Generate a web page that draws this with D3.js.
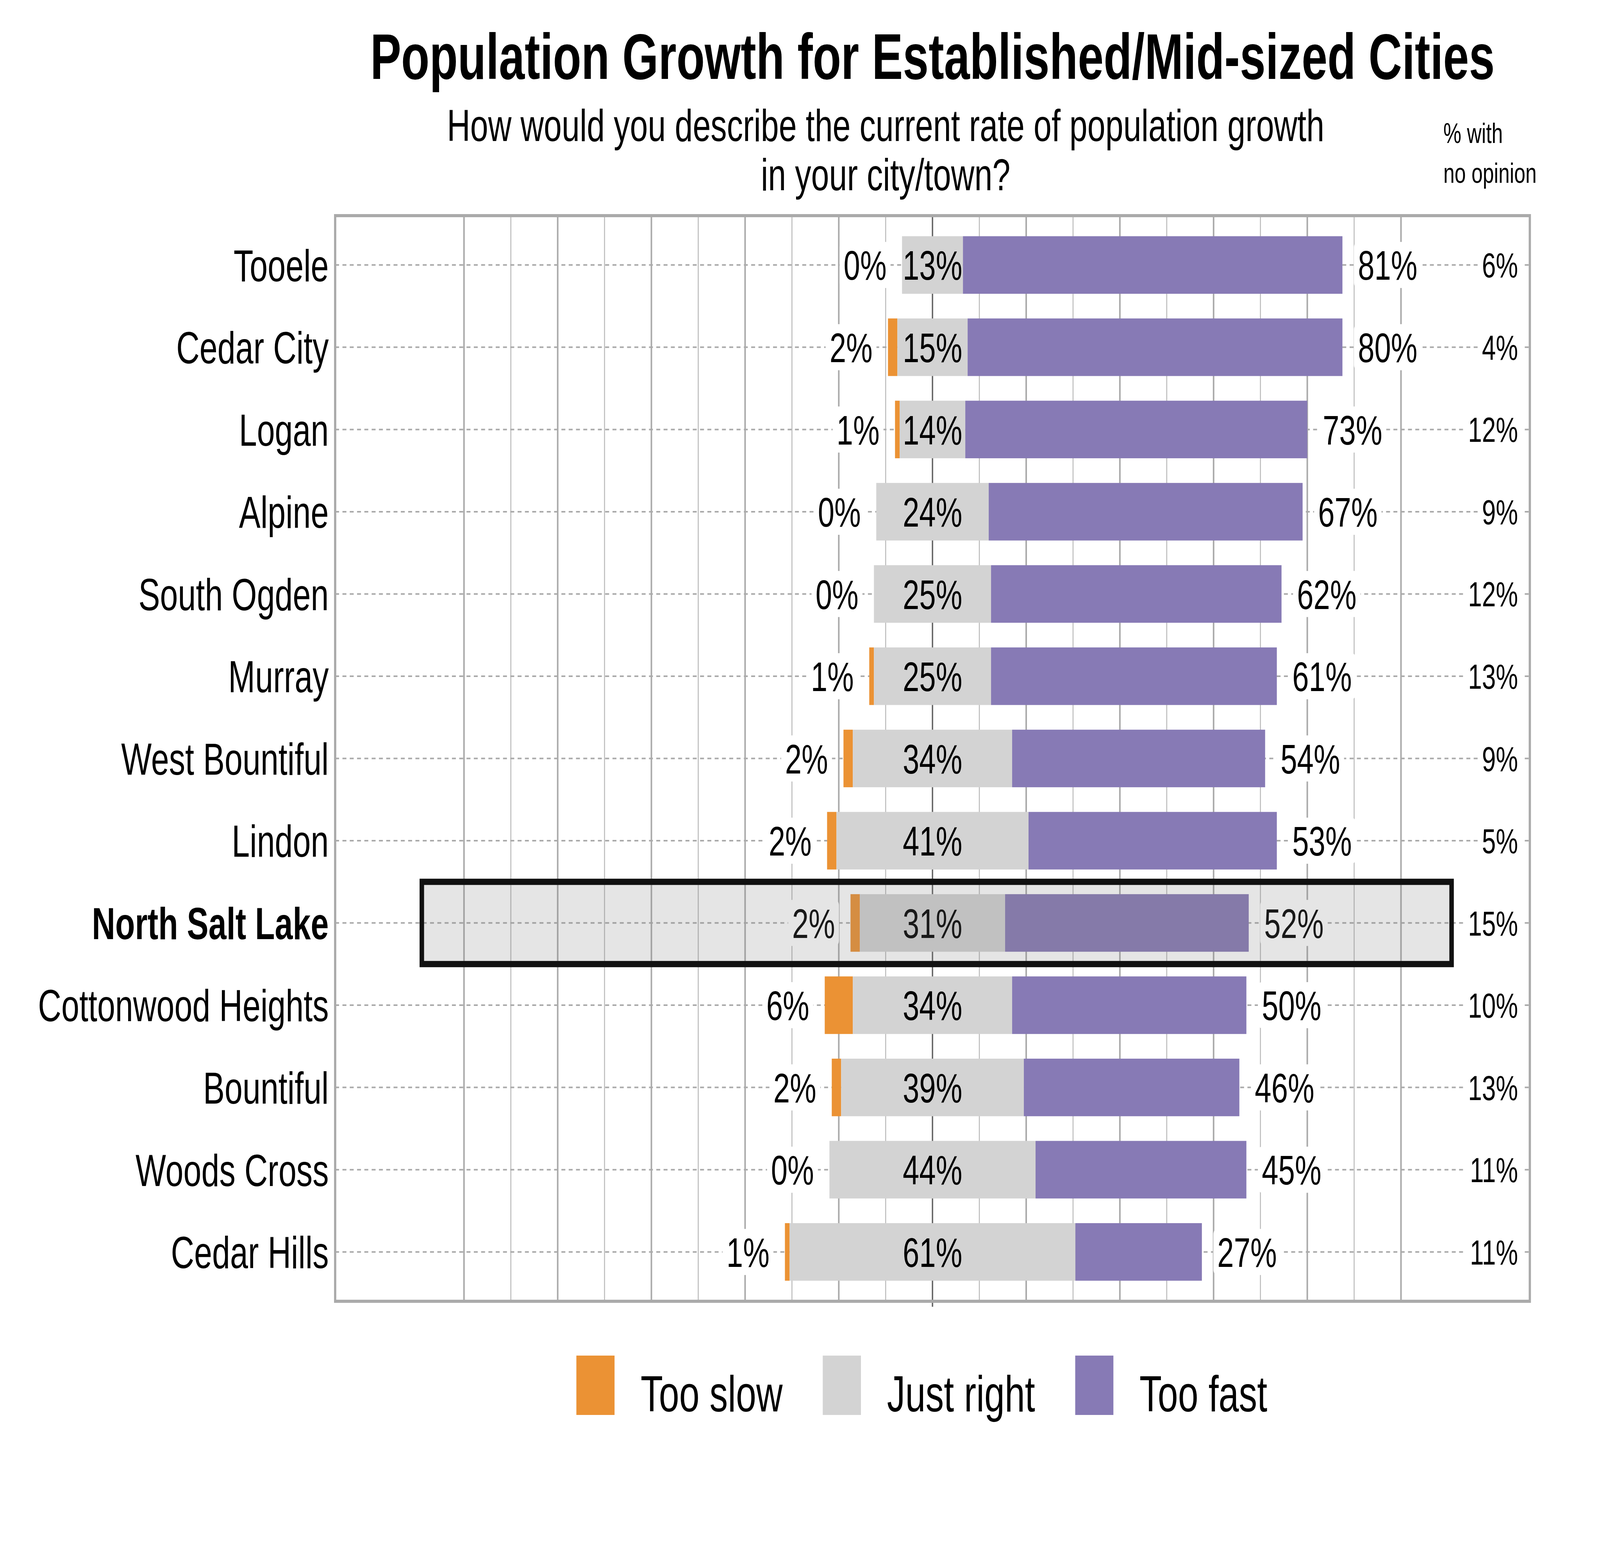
<!DOCTYPE html>
<html>
<head>
<meta charset="utf-8">
<script src="https://cdn.jsdelivr.net/npm/d3@7"></script>
<style>
  html, body { margin: 0; padding: 0; width: 100%; height: 100%; overflow: hidden; background: white; }
  #chart { width: 100vw; height: 100vh; }
  svg { display: block; }
  text { font-family: "Liberation Sans", Arial, sans-serif; }
</style>
</head>
<body>
<div id="chart"></div>
<script>
// survey data
const cities = ["Tooele", "Cedar City", "Logan", "Alpine", "South Ogden", "Murray",
  "West Bountiful", "Lindon", "North Salt Lake", "Cottonwood Heights", "Bountiful",
  "Woods Cross", "Cedar Hills"];
const tooSlow = [0, 2, 1, 0, 0, 1, 2, 2, 2, 6, 2, 0, 1];
const justRight = [13, 15, 14, 24, 25, 25, 34, 41, 31, 34, 39, 44, 61];
const tooFast = [81, 80, 73, 67, 62, 61, 54, 53, 52, 50, 46, 45, 27];
const noOpinion = [6, 4, 12, 9, 12, 13, 9, 5, 15, 10, 13, 11, 11];
const highlightCity = "North Salt Lake";
const seriesNames = ["Too slow", "Just right", "Too fast"];
const seriesColors = ["#eb9234", "#d3d3d3", "#877ab5"];
const gridTicks = d3.range(-100, 101, 10);

function chartConfig() {
  let config = {
    width: 5700,
    height: 3960,
    panel: { left: 1194, right: 5450, top: 552, bottom: 3331 },
    xDomain: [-127.5, 127.5],
    labelGap: 55,
    valueFont: 106,
    noOpFont: 89,
    cityFont: 115,
    noOpX: 5408,
    highlightExtent: [-109, 110.8]
  };
  // fill the whole window whatever its size
  config.svg = d3.select("#chart").append("svg")
    .attr("width", "100%")
    .attr("height", "100%")
    .attr("viewBox", [0, 0, config.width, config.height].join(" "))
    .attr("preserveAspectRatio", "none");
  config.x = d3.scaleLinear().domain(config.xDomain)
    .range([config.panel.left, config.panel.right]);
  config.y = d3.scalePoint().domain(cities)
    .range([config.panel.top, config.panel.bottom])
    .padding(0.6);
  config.barH = config.y.step() * 0.7;
  return config;
}

let cfg = chartConfig();

let rows = cities.map((c, i) => ({
  city: c,
  slow: tooSlow[i],
  right: justRight[i],
  fast: tooFast[i],
  none: noOpinion[i]
}));

function drawTitles() {
  cfg.svg.append("text")
    .attr("x", 3322).attr("y", 202)
    .attr("text-anchor", "middle")
    .attr("font-size", 165).attr("font-weight", "bold")
    .text("Population Growth for Established/Mid-sized Cities");

  let sub = ["How would you describe the current rate of population growth", "in your city/town?"];
  cfg.svg.selectAll(".sub").data(sub).enter().append("text")
    .attr("x", 3155).attr("y", (d, i) => 361 + i * 126)
    .attr("text-anchor", "middle")
    .attr("font-size", 115)
    .text(d => d);

  let noOp = ["% with", "no opinion"];
  cfg.svg.selectAll(".noophead").data(noOp).enter().append("text")
    .attr("x", 5142).attr("y", (d, i) => 366 + i * 102)
    .attr("font-size", 72)
    .text(d => d);
}

function drawGrid() {
  let p = cfg.panel;
  cfg.svg.append("g").selectAll("line")
    .data(gridTicks)
    .enter().append("line")
    .attr("x1", d => cfg.x(d)).attr("x2", d => cfg.x(d))
    .attr("y1", p.top).attr("y2", d => d === 0 ? p.bottom + 14 : p.bottom)
    .attr("stroke", d => d === 0 ? "#666666" : (d % 20 === 0 ? "#aaaaaa" : "#bbbbbb"))
    .attr("stroke-width", d => d === 0 ? 5 : (d % 20 === 0 ? 5.5 : 3.5));

  cfg.svg.append("g").selectAll("line")
    .data(cities)
    .enter().append("line")
    .attr("x1", p.left).attr("x2", p.right)
    .attr("y1", d => cfg.y(d)).attr("y2", d => cfg.y(d))
    .attr("stroke", "#aaaaaa")
    .attr("stroke-width", 4)
    .attr("stroke-dasharray", "14,12");
}

function drawBars() {
  let g = cfg.svg.append("g");
  let half = cfg.barH / 2;
  // too slow, to the left of just right
  g.selectAll(".slow").data(rows).enter().append("rect")
    .attr("x", d => cfg.x(-d.right / 2 - d.slow))
    .attr("y", d => cfg.y(d.city) - half)
    .attr("width", d => cfg.x(-d.right / 2) - cfg.x(-d.right / 2 - d.slow))
    .attr("height", cfg.barH)
    .attr("fill", seriesColors[0]);
  g.selectAll(".right").data(rows).enter().append("rect")
    .attr("x", d => cfg.x(-d.right / 2))
    .attr("y", d => cfg.y(d.city) - half)
    .attr("width", d => cfg.x(d.right / 2) - cfg.x(-d.right / 2))
    .attr("height", cfg.barH)
    .attr("fill", seriesColors[1]);
  g.selectAll(".fast").data(rows).enter().append("rect")
    .attr("x", d => cfg.x(d.right / 2))
    .attr("y", d => cfg.y(d.city) - half)
    .attr("width", d => cfg.x(d.right / 2 + d.fast) - cfg.x(d.right / 2))
    .attr("height", cfg.barH)
    .attr("fill", seriesColors[2]);
}

function boxedLabel(g, x, y, txt, anchor, size) {
  let lab = g.append("g");
  let t = lab.append("text")
    .attr("x", x).attr("y", y)
    .attr("dy", "0.36em")
    .attr("text-anchor", anchor)
    .attr("font-size", size)
    .text(txt);
  let bb = t.node().getBBox();
  lab.insert("rect", "text")
    .attr("x", bb.x - 14).attr("y", y - 59)
    .attr("width", bb.width + 28).attr("height", 118)
    .attr("rx", 14)
    .attr("fill", "white");
}

function drawLabels() {
  let g = cfg.svg.append("g");
  rows.forEach(d => {
    let yy = cfg.y(d.city);
    boxedLabel(g, cfg.x(-d.right / 2 - d.slow) - cfg.labelGap, yy, d.slow + "%", "end", cfg.valueFont);
    boxedLabel(g, cfg.x(d.right / 2 + d.fast) + cfg.labelGap, yy, d.fast + "%", "start", cfg.valueFont);
    boxedLabel(g, cfg.noOpX, yy, d.none + "%", "end", cfg.noOpFont);
    g.append("text")
      .attr("x", cfg.x(0)).attr("y", yy)
      .attr("dy", "0.36em")
      .attr("text-anchor", "middle")
      .attr("font-size", cfg.valueFont)
      .text(d.right + "%");
  });

  cfg.svg.append("g").selectAll("text")
    .data(cities)
    .enter().append("text")
    .attr("x", 1171).attr("y", d => cfg.y(d))
    .attr("dy", "0.36em")
    .attr("text-anchor", "end")
    .attr("font-size", cfg.cityFont)
    .attr("font-weight", d => d === highlightCity ? "bold" : "normal")
    .text(d => d);
}

function drawHighlight() {
  let yy = cfg.y(highlightCity);
  let s = cfg.y.step();
  cfg.svg.append("rect")
    .attr("x", cfg.x(cfg.highlightExtent[0]))
    .attr("y", yy - s / 2)
    .attr("width", cfg.x(cfg.highlightExtent[1]) - cfg.x(cfg.highlightExtent[0]))
    .attr("height", s)
    .attr("fill", "#7f7f7f")
    .attr("fill-opacity", 0.2)
    .attr("stroke", "#111111")
    .attr("stroke-width", 16);
}

function drawPanelBorder() {
  let p = cfg.panel;
  cfg.svg.append("rect")
    .attr("x", p.left).attr("y", p.top)
    .attr("width", p.right - p.left).attr("height", p.bottom - p.top)
    .attr("fill", "none")
    .attr("stroke", "#aaaaaa")
    .attr("stroke-width", 8);
}

function drawLegend() {
  let keyW = 136, keyH = 152, keyTop = 3470, textGap = 93, itemGap = 143, center = 3284;
  let g = cfg.svg.append("g");
  let items = seriesNames.map((name, i) => {
    let t = g.append("text")
      .attr("y", 3613)
      .attr("font-size", 130)
      .text(name);
    return { name: name, color: seriesColors[i], t: t, w: t.node().getComputedTextLength() };
  });
  let total = d3.sum(items, d => keyW + textGap + d.w) + itemGap * (items.length - 1);
  let xPos = center - total / 2;
  items.forEach(d => {
    g.append("rect")
      .attr("x", xPos).attr("y", keyTop)
      .attr("width", keyW).attr("height", keyH)
      .attr("fill", d.color);
    d.t.attr("x", xPos + keyW + textGap);
    xPos += keyW + textGap + d.w + itemGap;
  });
}

drawTitles();
drawGrid();
drawBars();
drawLabels();
drawHighlight();
drawPanelBorder();
drawLegend();
</script>
</body>
</html>
